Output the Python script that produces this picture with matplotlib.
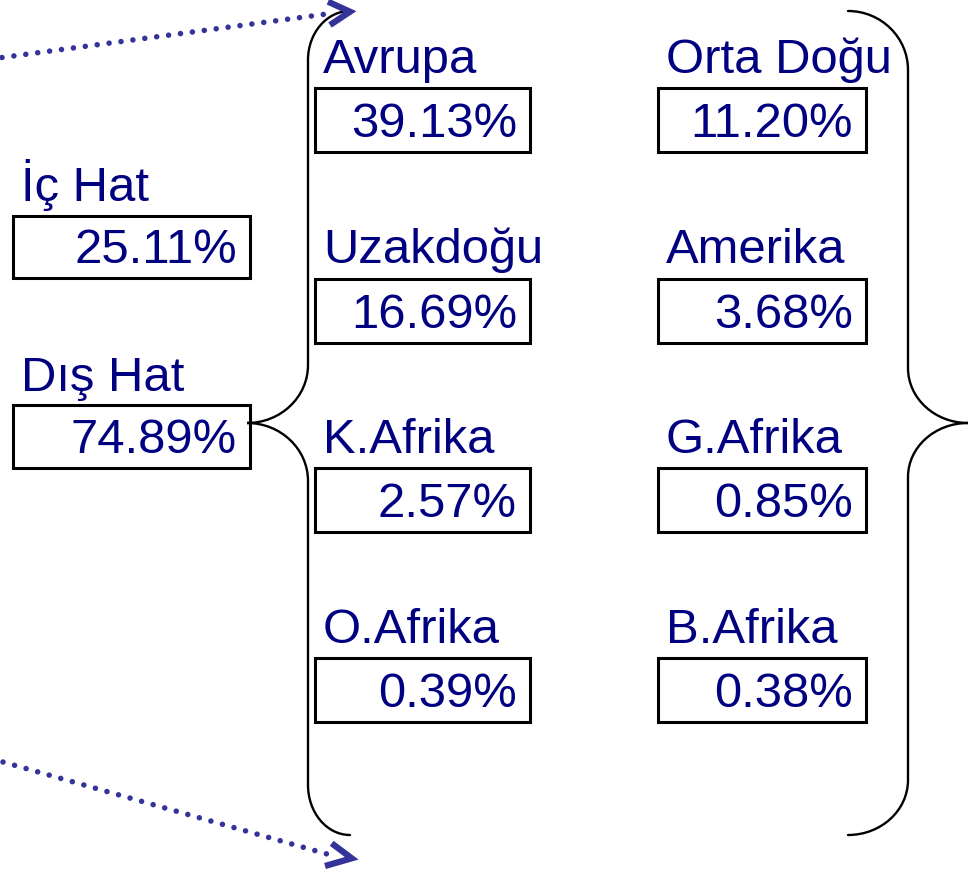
import matplotlib.pyplot as plt
from matplotlib.path import Path
from matplotlib.patches import PathPatch, Rectangle

plt.rcParams['font.family'] = ['Liberation Sans', 'DejaVu Sans']

# data
main_labels = ['İç Hat', 'Dış Hat']
main_values = [25.11, 74.89]
region_labels = ['Avrupa', 'Orta Doğu', 'Uzakdoğu', 'Amerika',
                 'K.Afrika', 'G.Afrika', 'O.Afrika', 'B.Afrika']
region_values = [39.13, 11.20, 16.69, 3.68, 2.57, 0.85, 0.39, 0.38]

TEXT_C = '#000080'
ARROW_C = '#333399'
K = 0.5523
FS = 35.3

W, H = 976, 869
fig = plt.figure(figsize=(W / 100, H / 100), dpi=100)
ax = fig.add_axes([0, 0, 1, 1])
ax.set_xlim(0, W)
ax.set_ylim(H, 0)
ax.axis('off')


def labelled_box(x0, x1, y_lab, y_top, y_bot, label, value):
    ax.text(x0 + 8, y_lab, label, color=TEXT_C, fontsize=FS,
            ha='left', va='baseline')
    ax.add_patch(Rectangle((x0, y_top), x1 - x0, y_bot - y_top,
                           fill=False, ec='black', lw=2.2))
    ax.text(x1 - 13, y_bot - 15, f'{value:.2f}%', color=TEXT_C,
            fontsize=FS, ha='right', va='baseline')


def brace(x_end, x_line, x_tip, y_top, y_top2, y_mid1, y_tip, y_mid2,
          y_bot2, y_bot):
    dx1 = x_end - x_line
    dx2 = x_line - x_tip
    verts = [
        (x_end, y_top),
        (x_end - K * dx1, y_top), (x_line, y_top2 - K * (y_top2 - y_top)),
        (x_line, y_top2),
        (x_line, y_mid1),
        (x_line, y_mid1 + K * (y_tip - y_mid1)), (x_tip + K * dx2, y_tip),
        (x_tip, y_tip),
        (x_tip + K * dx2, y_tip), (x_line, y_mid2 - K * (y_mid2 - y_tip)),
        (x_line, y_mid2),
        (x_line, y_bot2),
        (x_line, y_bot2 + K * (y_bot - y_bot2)), (x_end - K * dx1, y_bot),
        (x_end, y_bot),
    ]
    codes = [Path.MOVETO,
             Path.CURVE4, Path.CURVE4, Path.CURVE4,
             Path.LINETO,
             Path.CURVE4, Path.CURVE4, Path.CURVE4,
             Path.CURVE4, Path.CURVE4, Path.CURVE4,
             Path.LINETO,
             Path.CURVE4, Path.CURVE4, Path.CURVE4]
    ax.add_patch(PathPatch(Path(verts, codes), fill=False, ec='black',
                           lw=1.7, capstyle='round'))


def dotted_arrow(start, end, tip, arm1, arm2):
    # round dots about 12 px apart
    ax.plot([start[0], end[0]], [start[1], end[1]], color=ARROW_C, lw=4.0,
            linestyle=(0, (0.001, 2.16)), dash_capstyle='round')
    ax.plot([arm1[0], tip[0], arm2[0]], [arm1[1], tip[1], arm2[1]],
            color=ARROW_C, lw=4.5, solid_joinstyle='miter',
            solid_capstyle='butt')


# left boxes
main_rows = [(201, 216, 278), (391, 405, 468)]
for (yl, yt, yb), lab, val in zip(main_rows, main_labels, main_values):
    labelled_box(13, 250, yl, yt, yb, lab, val)

# region boxes (2 columns x 4 rows)
cols = [(315, 530), (658, 866)]
rows = [(73, 88, 152), (263, 279, 343), (453, 468, 532), (643, 658, 722)]
for i, (lab, val) in enumerate(zip(region_labels, region_values)):
    x0, x1 = cols[i % 2]
    yl, yt, yb = rows[i // 2]
    labelled_box(x0, x1, yl, yt, yb, lab, val)

# braces
brace(350, 308, 247, 11, 60, 365, 423, 481, 785, 835)
brace(848, 908, 968, 11, 70, 368, 423, 477, 780, 835)

# arrows
dotted_arrow((2, 57.5), (334, 13), (350, 11.7), (328, 1.7), (330, 25))
dotted_arrow((3, 762), (327, 854), (351.7, 858.3), (331.7, 843.3), (325, 866))

fig.savefig('out.png', dpi=100)
